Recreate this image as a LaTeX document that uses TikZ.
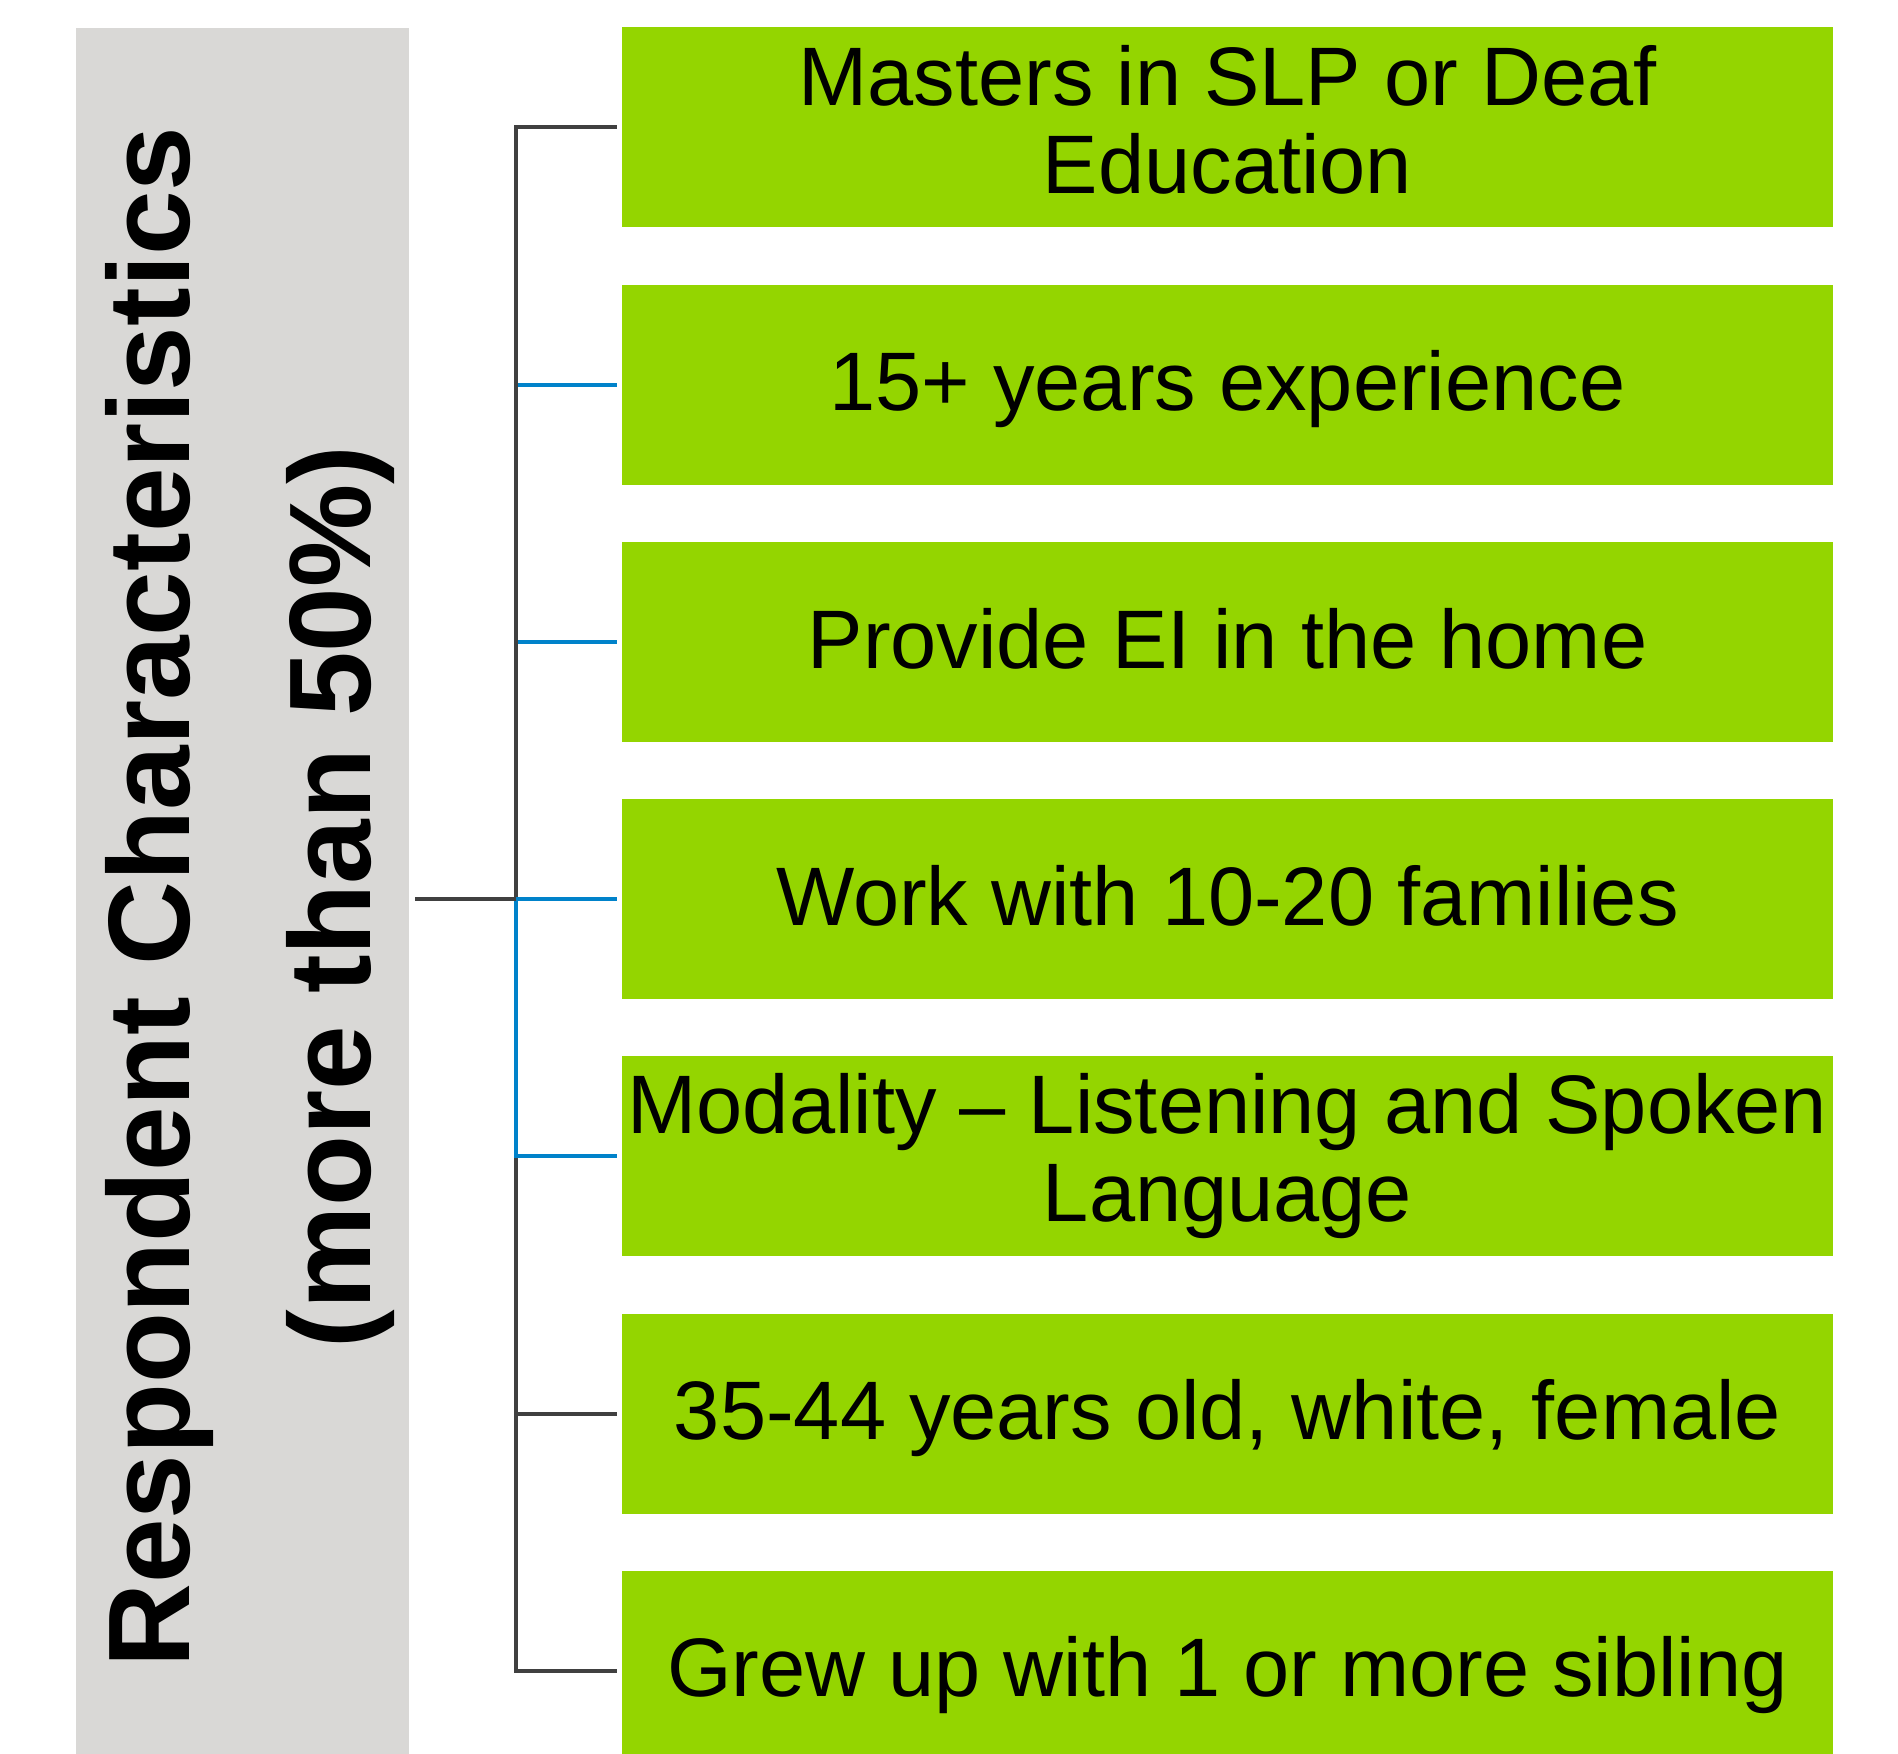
\documentclass[tikz,border=0pt]{standalone}
\usepackage{fontspec}
\setmainfont{Liberation Sans}
\usetikzlibrary{positioning}

\definecolor{leafgreen}{HTML}{94D500}
\definecolor{panelgray}{HTML}{D9D8D6}
\definecolor{linedark}{HTML}{404040}
\definecolor{lineblue}{HTML}{0082CA}

\tikzset{
  % #1 = height of the first-line strut (keeps the text centred like the original)
  item/.style={fill=leafgreen, minimum width=12.11cm, minimum height=2cm,
    inner sep=0pt, outer sep=0pt, align=center, font=\fontsize{23.6}{25}\selectfont,
    execute at begin node={\rule[-4.5pt]{0pt}{#1}},
    execute at end node={\rule[-4.5pt]{0pt}{24pt}}},
  item/.default=24pt,
  panel/.style={fill=panelgray, minimum width=3.33cm, minimum height=17.25cm, inner sep=0pt},
  paneltext/.style={rotate=90, align=center, inner sep=0pt,
    font=\fontsize{33}{51.5}\selectfont\bfseries},
  darkline/.style={draw=linedark, line width=1.15pt},
  blueline/.style={draw=lineblue, line width=1.15pt}
}

\begin{document}
\begin{tikzpicture}[x=0.01cm,y=-0.01cm]
\useasboundingbox (0,0) rectangle (1898,1753);

% left panel
\node[panel] (root) at (242.5,890.5) {};
\node[paneltext] (roottext) at (250,897) {Respondent Characteristics\\(more than 50\%)};

% boxes
\node[item=26.8pt] (c1) at (1227.5,127.4) {Masters in SLP or Deaf\\Education};
\node[item, below=0.571cm of c1] (c2) {15+ years experience};
\node[item, below=0.571cm of c2] (c3) {Provide EI in the home};
\node[item, below=0.571cm of c3] (c4) {Work with 10-20 families};
\node[item=26.8pt, below=0.571cm of c4] (c5) {Modality – Listening and Spoken\\Language};
\node[item, below=0.571cm of c5] (c6) {35-44 years old, white, female};
\node[item, below=0.571cm of c6] (c7) {Grew up with 1 or more sibling};

% connectors
\coordinate (hub) at (516,0 |- c4.west);
\coordinate (rootout) at (415,0 |- c4.west);
\draw[blueline] (hub) |- ([xshift=-0.05cm]c2.west);
\draw[blueline] (hub) |- ([xshift=-0.05cm]c3.west);
\draw[darkline] (hub) |- ([xshift=-0.05cm]c1.west);
\draw[darkline] (hub) |- ([xshift=-0.05cm]c6.west);
\draw[darkline] (hub) |- ([xshift=-0.05cm]c7.west);
\draw[blueline] (hub) |- ([xshift=-0.05cm]c5.west);
\draw[blueline] (hub) -- ([xshift=-0.05cm]c4.west);
\draw[darkline] (rootout) -- (hub);
\end{tikzpicture}
\end{document}
